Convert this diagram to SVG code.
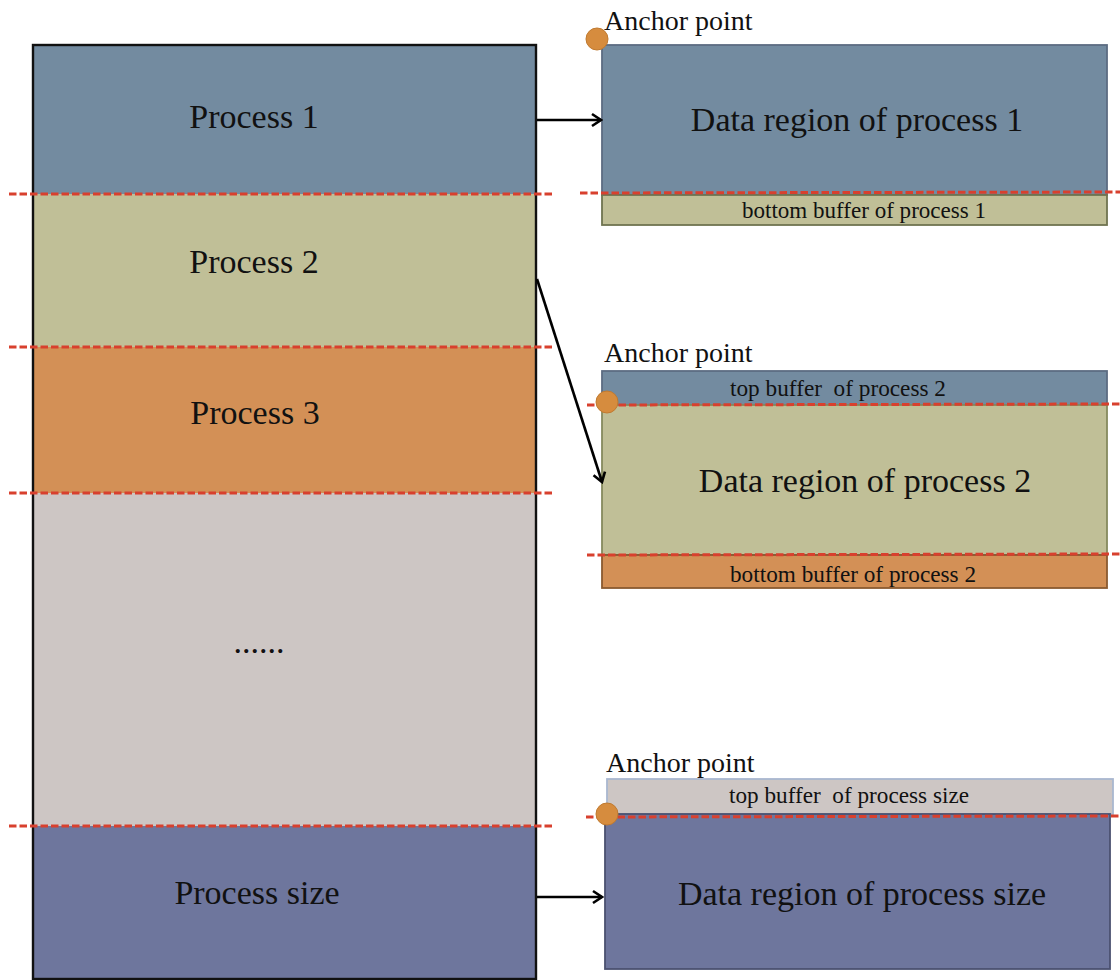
<svg xmlns="http://www.w3.org/2000/svg" width="1120" height="980" viewBox="0 0 1120 980">
<style>
text{font-family:"Liberation Serif","Times New Roman",serif;fill:#111;}
.big{font-size:34px;text-anchor:middle;}
.small{font-size:23px;text-anchor:middle;}
.anchor{font-size:28px;}
.dash{stroke:#d8402e;stroke-width:3;stroke-dasharray:7.5 3;fill:none;}
.c1{fill:#738ba0;}
.c2{fill:#c0bf97;}
.c3{fill:#d39056;}
.c4{fill:#cdc6c4;}
.c5{fill:#6e769d;}
.dot{fill:#d68c3e;stroke:#c07a30;stroke-width:1;}
.conn{stroke:#000;stroke-width:2.6;fill:none;marker-end:url(#arr);}
</style>
<defs>
<marker id="arr" markerWidth="14" markerHeight="16" refX="12" refY="8" orient="auto" markerUnits="userSpaceOnUse">
<path d="M3,2 L12,8 L3,14" fill="none" stroke="#000" stroke-width="2.6"/>
</marker>
</defs>
<rect width="1120" height="980" fill="#fff"/>

<g id="memory-column">
<rect class="c1" x="33" y="45" width="503" height="149"/>
<rect class="c2" x="33" y="194" width="503" height="153"/>
<rect class="c3" x="33" y="347" width="503" height="146"/>
<rect class="c4" x="33" y="493" width="503" height="333"/>
<rect class="c5" x="33" y="826" width="503" height="153"/>
<rect x="33" y="45" width="503" height="934" fill="none" stroke="#111" stroke-width="2.4"/>
</g>
<g id="process1"><text class="big" x="254" y="128">Process 1</text></g>
<g id="process2"><text class="big" x="254" y="273">Process 2</text></g>
<g id="process3"><text class="big" x="255" y="424">Process 3</text></g>
<g id="ellipsis"><text class="big" x="259" y="653" font-size="28">......</text></g>
<g id="process-size"><text class="big" x="257" y="904">Process size</text></g>

<g id="left-dashes">
<line class="dash" x1="9" y1="194" x2="552" y2="194"/>
<line class="dash" x1="9" y1="347" x2="552" y2="347"/>
<line class="dash" x1="9" y1="493" x2="552" y2="493"/>
<line class="dash" x1="9" y1="826" x2="552" y2="826"/>
</g>

<g id="data-region-1">
<rect class="c1" x="602" y="45" width="505" height="150" stroke="#5c6c82" stroke-width="1.8"/>
<rect class="c2" x="602" y="195" width="505" height="30" stroke="#6f7450" stroke-width="1.8"/>
<line class="dash" x1="580" y1="193" x2="1120" y2="192"/>
<text class="big" x="857" y="131" font-size="35">Data region of process 1</text>
<text class="small" x="864" y="218" textLength="244" lengthAdjust="spacingAndGlyphs">bottom buffer of process 1</text>
<circle class="dot" cx="597" cy="39" r="11"/>
<text class="anchor" x="604" y="30">Anchor point</text>
</g>

<g id="data-region-2">
<rect class="c1" x="602" y="371" width="505" height="34" stroke="#5c6c82" stroke-width="1.8"/>
<rect class="c2" x="602" y="405" width="505" height="150" stroke="#868a5e" stroke-width="1.8"/>
<rect class="c3" x="602" y="555" width="505" height="33" stroke="#8a5a30" stroke-width="1.8"/>
<line class="dash" x1="587" y1="405" x2="1120" y2="404"/>
<line class="dash" x1="587" y1="555" x2="1120" y2="554"/>
<text class="small" x="838" y="396" textLength="216" lengthAdjust="spacingAndGlyphs" xml:space="preserve">top buffer  of process 2</text>
<text class="big" x="865" y="492" font-size="35">Data region of process 2</text>
<text class="small" x="853" y="582" textLength="246" lengthAdjust="spacingAndGlyphs">bottom buffer of process 2</text>
<circle class="dot" cx="607" cy="402" r="11"/>
<text class="anchor" x="604" y="362">Anchor point</text>
</g>

<g id="data-region-size">
<rect class="c4" x="607" y="779" width="506" height="35" stroke="#a9b7d0" stroke-width="1.8"/>
<rect class="c5" x="605" y="814" width="505" height="155" stroke="#4b5170" stroke-width="1.8"/>
<line class="dash" x1="586" y1="817" x2="1120" y2="816"/>
<text class="small" x="849" y="803" textLength="240" lengthAdjust="spacingAndGlyphs" xml:space="preserve">top buffer  of process size</text>
<text class="big" x="862" y="905" font-size="35">Data region of process size</text>
<circle class="dot" cx="607" cy="814" r="11"/>
<text class="anchor" x="606" y="772">Anchor point</text>
</g>

<g id="connectors">
<line class="conn" x1="537" y1="120" x2="601" y2="120"/>
<line class="conn" x1="537" y1="279" x2="602" y2="482"/>
<line class="conn" x1="537" y1="897" x2="602" y2="897"/>
</g>
</svg>
